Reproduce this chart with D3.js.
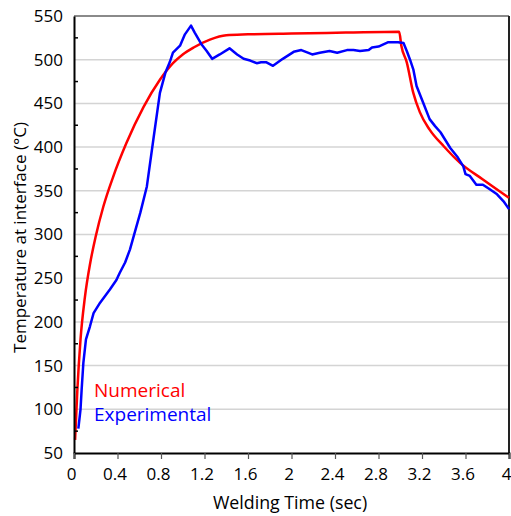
<!DOCTYPE html>
<html>
<head>
<meta charset="utf-8">
<script src="https://cdn.jsdelivr.net/npm/d3@7/dist/d3.min.js"></script>
<style>
  html, body { margin: 0; padding: 0; background: #fff; }
  svg { display: block; font-family: "Open Sans", "Noto Sans", sans-serif; }
</style>
</head>
<body>
<svg id="chart" width="511" height="516"></svg>
<script>
// Interface temperature during welding: numerical model vs. thermocouple record
const numTime = [0.01, 0.03, 0.06, 0.10, 0.15, 0.20, 0.27, 0.36, 0.48, 0.64, 0.79, 0.91, 1.00, 1.10, 1.25, 1.40, 1.60, 2.00, 2.50, 2.99,
                 3.01, 3.06, 3.12, 3.18, 3.27, 3.40, 3.55, 3.76, 4.00];
const numTemp = [65, 120, 180, 228, 268, 298, 332, 366, 404, 446, 477, 496, 506, 514, 523, 528, 529, 530, 531, 532,
                 516, 497, 462, 440, 420, 401, 382, 363, 342];

const expTime = [0.04, 0.06, 0.07, 0.086, 0.11, 0.147, 0.18, 0.24, 0.33, 0.39, 0.42, 0.47, 0.515, 0.56, 0.61, 0.67, 0.73, 0.79, 0.84, 0.88, 0.91, 0.975,
                 1.02, 1.076, 1.11, 1.17, 1.22, 1.27, 1.34, 1.43, 1.50, 1.56, 1.62, 1.68, 1.72, 1.77, 1.83, 1.92, 2.02, 2.09, 2.15,
                 2.19, 2.26, 2.35, 2.42, 2.51, 2.57, 2.63, 2.71, 2.74, 2.80, 2.89, 2.98, 3.03, 3.06, 3.09, 3.12, 3.15, 3.21, 3.27,
                 3.32, 3.37, 3.46, 3.53, 3.58, 3.60, 3.64, 3.70, 3.76, 3.82, 3.89, 3.95, 4.00];
const expTemp = [78, 100, 122, 153, 180, 195, 210, 222, 237, 248, 256, 268, 283, 303, 325, 355, 409, 462, 485, 497, 508, 516,
                 529, 539, 531, 518, 510, 501, 506, 513, 506, 501, 499, 496, 497, 497, 493, 501, 509, 511, 508,
                 506, 508, 510, 508, 511, 511, 510, 511, 514, 515, 520, 520, 519, 510, 500, 489, 470, 451, 432,
                 424, 417, 399, 388, 378, 369, 367, 357, 357, 352, 346, 338, 329];

const xTicks = [0, 0.4, 0.8, 1.2, 1.6, 2, 2.4, 2.8, 3.2, 3.6, 4];
const yTicks = [50, 100, 150, 200, 250, 300, 350, 400, 450, 500, 550];
const yMinorTicks = [75, 125, 175, 225, 275, 325, 375, 425, 475, 525];

const seriesNames = ["Numerical", "Experimental"];
const seriesColors = ["#ff0000", "#0000ff"];

const svg = d3.select("#chart");
const margin = { left: 74, right: 2, top: 16, bottom: 63 };
const W = 511, H = 516;

const x = d3.scaleLinear().domain([0, 4]).range([margin.left, W - margin.right]);
const y = d3.scaleLinear().domain([50, 550]).range([H - margin.bottom, margin.top]);

// horizontal gridlines
svg.append("g")
  .selectAll("line")
  .data(yTicks.filter(v => v > 50 && v < 550))
  .join("line")
  .attr("x1", x(0)).attr("x2", x(4))
  .attr("y1", d => y(d)).attr("y2", d => y(d))
  .attr("stroke", "#d4d4d4").attr("stroke-width", 1.5);

// plot frame: top and right edges
svg.append("line")
  .attr("x1", x(0)).attr("x2", x(4)).attr("y1", y(550)).attr("y2", y(550))
  .attr("stroke", "#8a8a8a").attr("stroke-width", 2);
svg.append("line")
  .attr("x1", x(4)).attr("x2", x(4)).attr("y1", y(550)).attr("y2", y(50))
  .attr("stroke", "#222").attr("stroke-width", 2);

// series lines
const numData = numTime.map((t, i) => [t, numTemp[i]]);
const expData = expTime.map((t, i) => [t, expTemp[i]]);

svg.append("path")
  .datum(numData)
  .attr("fill", "none")
  .attr("stroke", seriesColors[0])
  .attr("stroke-width", 2.5)
  .attr("d", d3.line().x(d => x(d[0])).y(d => y(d[1])).curve(d3.curveMonotoneX));

svg.append("path")
  .datum(expData)
  .attr("fill", "none")
  .attr("stroke", seriesColors[1])
  .attr("stroke-width", 2.5)
  .attr("stroke-linejoin", "round")
  .attr("d", d3.line().x(d => x(d[0])).y(d => y(d[1])));

// y axis
const yAxis = svg.append("g")
  .attr("transform", `translate(${x(0)},0)`)
  .call(d3.axisLeft(y).tickValues(yTicks).tickSize(0).tickPadding(11));
yAxis.select(".domain").attr("stroke", "#000").attr("stroke-width", 2);
yAxis.selectAll("text").attr("font-size", 17).attr("fill", "#000")
  .attr("font-family", "'Open Sans', sans-serif");

// minor ticks on the inside of the y axis
svg.append("g")
  .selectAll("line")
  .data(yMinorTicks)
  .join("line")
  .attr("x1", x(0)).attr("x2", x(0) + 4)
  .attr("y1", d => y(d)).attr("y2", d => y(d))
  .attr("stroke", "#000").attr("stroke-width", 1.5);

// x axis
const xAxis = svg.append("g")
  .attr("transform", `translate(0,${y(50)})`)
  .call(d3.axisBottom(x).tickValues(xTicks).tickSize(6).tickPadding(9)
    .tickFormat(d => String(+d.toFixed(1))));
xAxis.select(".domain").attr("stroke", "#000").attr("stroke-width", 2);
xAxis.selectAll(".tick line").attr("stroke", "#555").attr("stroke-width", 1.2);
xAxis.selectAll("text").attr("font-size", 17).attr("fill", "#000").attr("dx", -3)
  .attr("font-family", "'Open Sans', sans-serif");

// axis titles
svg.append("text")
  .attr("x", 290).attr("y", 509)
  .attr("text-anchor", "middle")
  .attr("font-size", 17.8)
  .text("Welding Time (sec)");

svg.append("text")
  .attr("transform", `translate(26,${(y(50) + y(550)) / 2 + 3}) rotate(-90)`)
  .attr("text-anchor", "middle")
  .attr("font-size", 17)
  .text("Temperature at interface (°C)");

// legend
svg.append("g")
  .selectAll("text")
  .data(seriesNames)
  .join("text")
  .attr("x", 94)
  .attr("y", (d, i) => 397 + i * 24)
  .attr("font-size", 19)
  .attr("fill", (d, i) => seriesColors[i])
  .text(d => d);
</script>
</body>
</html>
